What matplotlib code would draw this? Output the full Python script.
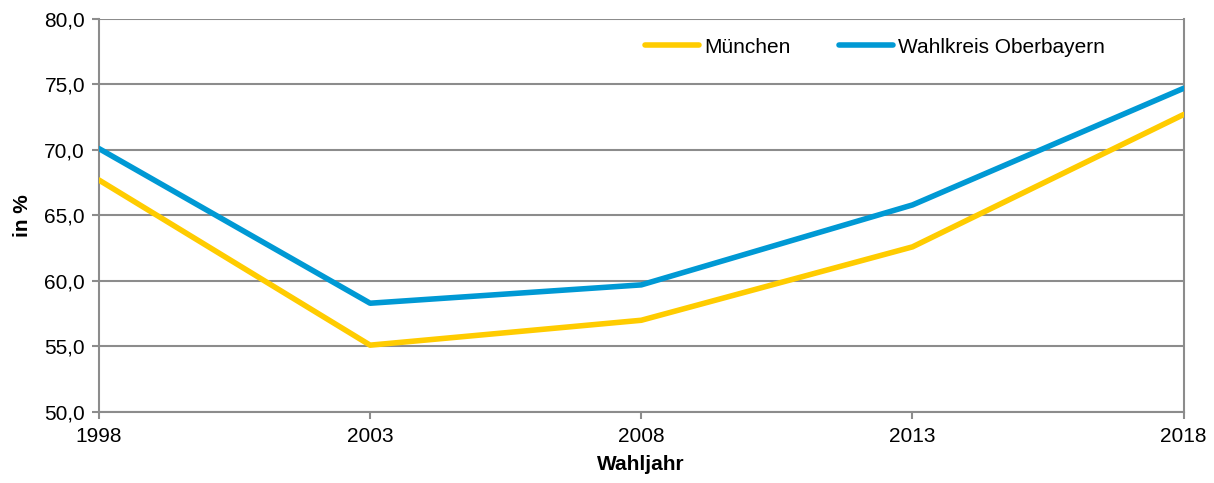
import matplotlib.pyplot as plt

years = [1998, 2003, 2008, 2013, 2018]
muenchen = [67.7, 55.1, 57.0, 62.6, 72.7]
oberbayern = [70.1, 58.3, 59.7, 65.8, 74.7]
yticks = [50, 55, 60, 65, 70, 75, 80]

plt.rcParams['font.family'] = ['Liberation Sans', 'DejaVu Sans']

fig = plt.figure(figsize=(12.14, 4.83), dpi=100)
ax = fig.add_axes([0.0815, 0.147, 0.8935, 0.814])

grid_col = '#8c8c8c'
ax.plot(years, muenchen, color='#FFCC00', lw=4, label='München', solid_capstyle='round', zorder=3)
ax.plot(years, oberbayern, color='#0099D4', lw=4, label='Wahlkreis Oberbayern', solid_capstyle='round', zorder=3)

ax.set_xlim(1998, 2018)
ax.set_ylim(50, 80)
ax.set_xticks(years)
ax.set_yticks(yticks)
ax.set_yticklabels([f'{v:.1f}'.replace('.', ',') for v in yticks])
ax.yaxis.grid(True, color=grid_col, lw=1.5)
ax.set_axisbelow(True)
for s in ax.spines.values():
    s.set_color(grid_col)
    s.set_linewidth(1.5)
ax.spines['top'].set_visible(False)
ax.tick_params(axis='both', colors=grid_col, labelcolor='black', labelsize=15, length=5, width=1.5)
ax.tick_params(axis='y', pad=5)
ax.tick_params(axis='x', pad=6)

ax.set_xlabel('Wahljahr', fontsize=15, fontweight='bold', labelpad=6)
ax.set_ylabel('in %', fontsize=15, fontweight='bold', labelpad=9)

ax.legend(loc='upper right', ncol=2, frameon=False, fontsize=15, handlelength=2.6,
          columnspacing=2.3, handletextpad=0.25, bbox_to_anchor=(0.945, 1.0))

fig.savefig('out.png', dpi=100)
